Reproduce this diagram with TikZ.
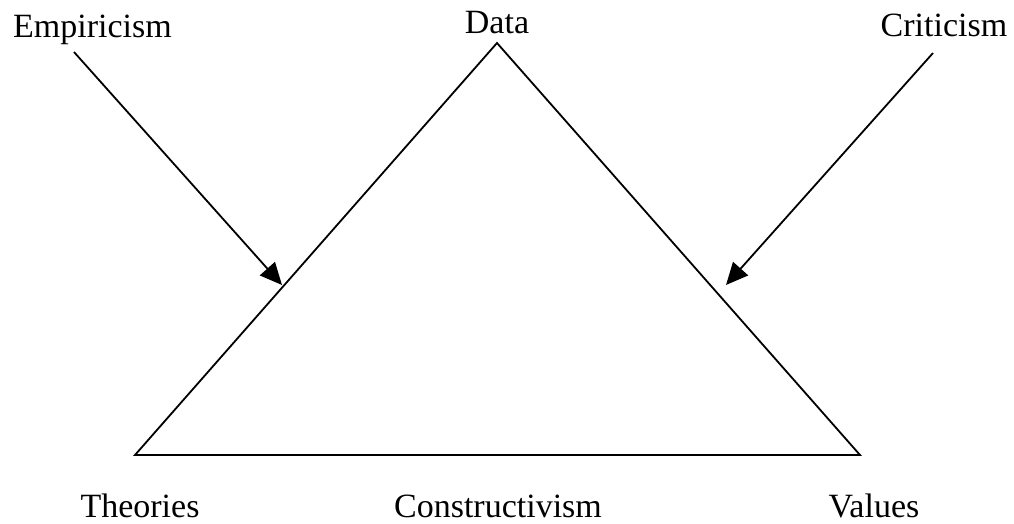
\documentclass[tikz,border=0pt]{standalone}
\usepackage{fontspec}
\setmainfont{Liberation Serif}
\usetikzlibrary{positioning,calc,arrows.meta}

\begin{document}
\begin{tikzpicture}[x=1pt,y=-1pt,
    lbl/.style={anchor=base,inner sep=0pt,font=\fontsize{34}{40}\selectfont},
    edge/.style={line width=1.8pt,line join=miter},
    push/.style={line width=1.8pt,-{Triangle[length=22pt,width=20pt]}}]
\useasboundingbox (0,0) rectangle (1014,523);

% Corners of the triangle
\coordinate (apex) at (497,43);
\coordinate (left) at (135,455);
\coordinate (right) at (860,455);

% Labels
\node[lbl] (data) at (497,33) {Data};
\node[lbl] (emp) at (92.5,37) {Empiricism};
\node[lbl] (crit) at (944,36) {Criticism};
\node[lbl] (theo) at (140,517) {Theories};
\node[lbl] (cons) at (498,517) {Constructivism};
\node[lbl] (vals) at (874,517) {Values};

% Triangle
\draw[edge] (apex) -- (left) -- (right) -- cycle;

% Arrows
\coordinate (empS) at (74,52);
\coordinate (empT) at (282,285);
\coordinate (critS) at (933,53);
\coordinate (critT) at (726,285);
\draw[push] (empS) -- (empT);
\draw[push] (critS) -- (critT);

\end{tikzpicture}
\end{document}
